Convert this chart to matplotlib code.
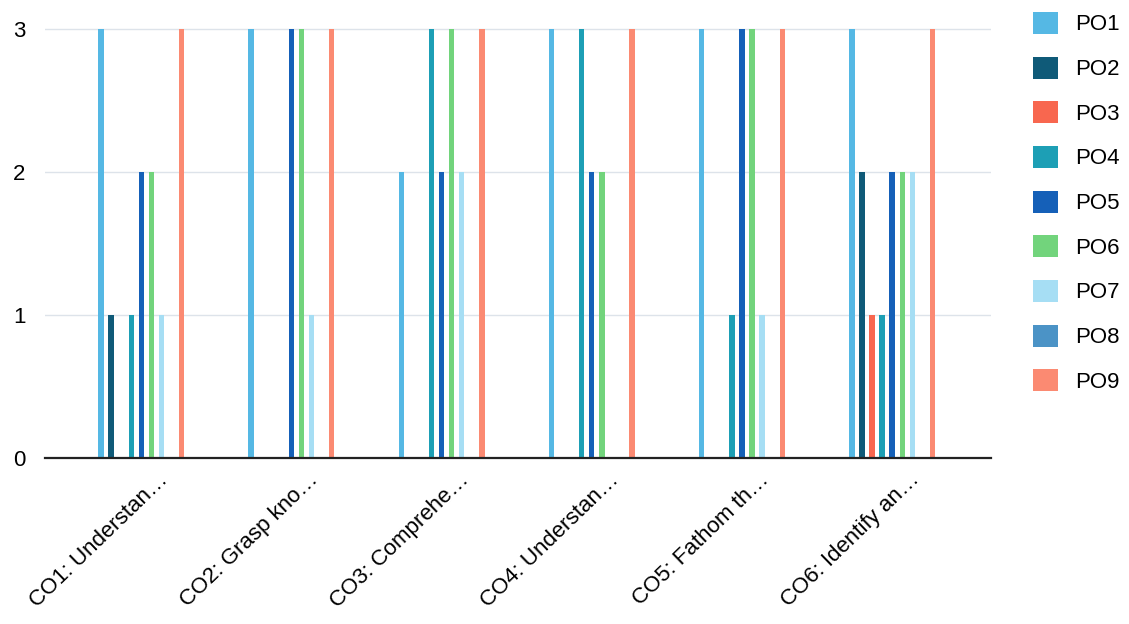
import numpy as np
import matplotlib.pyplot as plt

plt.rcParams['font.family'] = ['Liberation Sans', 'DejaVu Sans']

categories = ['CO1: Understan…', 'CO2: Grasp kno…', 'CO3: Comprehe…',
              'CO4: Understan…', 'CO5: Fathom th…', 'CO6: Identify an…']
series = ['PO1', 'PO2', 'PO3', 'PO4', 'PO5', 'PO6', 'PO7', 'PO8', 'PO9']
po1 = [3, 3, 2, 3, 3, 3]
po2 = [1, 0, 0, 0, 0, 2]
po3 = [0, 0, 0, 0, 0, 1]
po4 = [1, 0, 3, 3, 1, 1]
po5 = [2, 3, 2, 2, 3, 2]
po6 = [2, 3, 3, 2, 3, 2]
po7 = [1, 1, 2, 0, 1, 2]
po8 = [0, 0, 0, 0, 0, 0]
po9 = [3, 3, 3, 3, 3, 3]
values = [po1, po2, po3, po4, po5, po6, po7, po8, po9]
colors = ['#55b8e4', '#0f5a78', '#f8674f', '#1d9fb5', '#1560b8',
          '#72d47c', '#a6def4', '#4b93c6', '#fb8a72']

fig = plt.figure(figsize=(11.29, 6.24), dpi=100)
ax = fig.add_axes([0.04, 0.266, 0.838, 0.692])

x = np.arange(len(categories))
step = 0.067
for i, (name, vals, c) in enumerate(zip(series, values, colors)):
    ax.bar(x + (i - 4) * step, vals, width=0.036, color=c, label=name)

ax.set_xlim(-0.64, 5.66)
ax.set_ylim(0, 3.02)
ax.set_yticks([0, 1, 2, 3])
ax.yaxis.grid(True, color='#dde3ea', linewidth=1)
ax.set_axisbelow(True)
for s in ['top', 'right', 'left']:
    ax.spines[s].set_visible(False)
ax.spines['bottom'].set_linewidth(1.6)
ax.spines['bottom'].set_color('#222222')
ax.tick_params(axis='y', length=0, labelsize=16, pad=14)
ax.tick_params(axis='x', length=0, labelsize=16, pad=8)
ax.set_xticks(x + 0.11)
ax.set_xticklabels(categories, rotation=44, ha='right', rotation_mode='anchor')

fig.legend(loc='upper left', bbox_to_anchor=(0.897, 1.013), frameon=False,
           fontsize=16, handlelength=1.15, handleheight=1.15,
           labelspacing=0.95, handletextpad=0.75)

fig.savefig('out.png', dpi=100)
